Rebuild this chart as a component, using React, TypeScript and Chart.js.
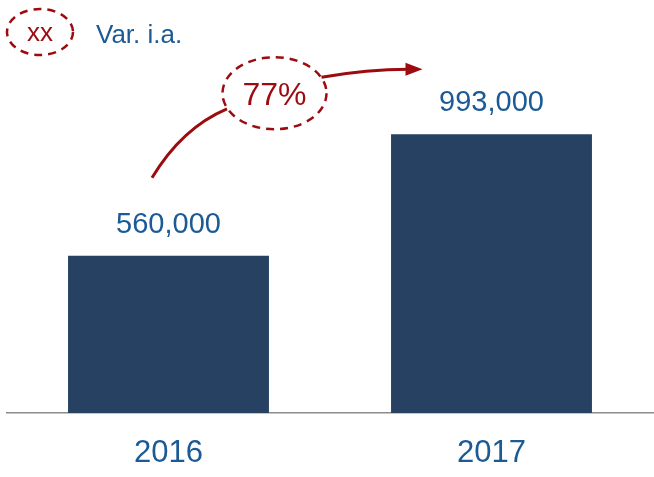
import React, { useEffect, useRef } from "react";
import { Chart, registerables } from "chart.js";

Chart.register(...registerables);

const categories = ["2016", "2017"];
const values = [560000, 993000];
const changeLabel = "77%";
const legendMark = "xx";
const legendText = "Var. i.a.";

const FONT = "'Liberation Sans', Arial, sans-serif";
const BLUE = "#1b5a94";
const NAVY = "#274162";
const RED = "#9c0b0f";

function ellipse(ctx: CanvasRenderingContext2D, cx: number, cy: number, rx: number, ry: number) {
  ctx.save();
  ctx.strokeStyle = RED;
  ctx.lineWidth = 2.5;
  ctx.setLineDash([8, 6]);
  ctx.beginPath();
  ctx.ellipse(cx, cy, rx, ry, 0, 0, Math.PI * 2);
  ctx.stroke();
  ctx.restore();
}

const annotPlugin = {
  id: "annot",
  afterDatasetsDraw(chart: any) {
    const ctx: CanvasRenderingContext2D = chart.ctx;
    const meta = chart.getDatasetMeta(0);
    const b0 = meta.data[0];
    const b1 = meta.data[1];
    ctx.save();
    // value labels
    ctx.fillStyle = BLUE;
    ctx.font = `29px ${FONT}`;
    ctx.textAlign = "center";
    ctx.textBaseline = "alphabetic";
    meta.data.forEach((el: any, i: number) => {
      ctx.fillText(values[i].toLocaleString("en-US"), el.x, el.y - 23);
    });

    // legend
    ellipse(ctx, 40, 32, 33, 23);
    ctx.fillStyle = RED;
    ctx.font = `26px ${FONT}`;
    ctx.textAlign = "center";
    ctx.textBaseline = "middle";
    ctx.fillText(legendMark, 40, 34);
    ctx.fillStyle = BLUE;
    ctx.textAlign = "left";
    ctx.textBaseline = "alphabetic";
    ctx.fillText(legendText, 96, 43);

    // change annotation
    const cx = b0.x + 106;
    const cy = b1.y - 41;
    ellipse(ctx, cx, cy, 52, 36);
    ctx.fillStyle = RED;
    ctx.font = `32px ${FONT}`;
    ctx.textAlign = "center";
    ctx.textBaseline = "alphabetic";
    ctx.fillText(changeLabel, cx, cy + 12);

    ctx.strokeStyle = RED;
    ctx.lineWidth = 3;
    ctx.setLineDash([]);
    const sx = b0.x - 16.5;
    const sy = b0.y - 78;
    ctx.beginPath();
    ctx.moveTo(sx, sy);
    ctx.quadraticCurveTo(sx + 30, sy - 50, sx + 75, sy - 69);
    ctx.stroke();

    const ex = b1.x - 69;
    const ey = b1.y - 65;
    ctx.beginPath();
    ctx.moveTo(cx + 47, cy - 16);
    ctx.quadraticCurveTo(ex - 55, ey, ex - 14, ey);
    ctx.stroke();
    ctx.fillStyle = RED;
    ctx.beginPath();
    ctx.moveTo(ex, ey);
    ctx.lineTo(ex - 17, ey - 6.5);
    ctx.lineTo(ex - 17, ey + 6.5);
    ctx.closePath();
    ctx.fill();
    ctx.restore();
  },
};

export default function App() {
  const ref = useRef<HTMLCanvasElement>(null);
  useEffect(() => {
    const chart = new Chart(ref.current!, {
      type: "bar",
      data: {
        labels: categories,
        datasets: [
          {
            data: values,
            backgroundColor: NAVY,
            borderWidth: 0,
            barPercentage: 0.622,
            categoryPercentage: 1,
          },
        ],
      },
      options: {
        responsive: false,
        animation: false,
        layout: { padding: { left: 7, right: 1, top: 20, bottom: 7 } },
        plugins: { legend: { display: false }, tooltip: { enabled: false } },
        scales: {
          x: {
            grid: { display: false, drawTicks: false },
            border: { display: true, color: "#8c8c8c", width: 1.5 },
            ticks: { color: BLUE, font: { family: FONT, size: 31 }, padding: 22 },
            afterFit: (scale: any) => {
              scale.height = 57;
            },
          },
          y: {
            display: false,
            min: 0,
            max: 1400000,
          },
        },
      },
      plugins: [annotPlugin],
    });
    return () => chart.destroy();
  }, []);
  return (
    <div style={{ position: "absolute", left: 0, top: 0, width: 654, height: 477, background: "#fff" }}>
      <canvas ref={ref} width={654} height={477} style={{ display: "block" }} />
    </div>
  );
}
